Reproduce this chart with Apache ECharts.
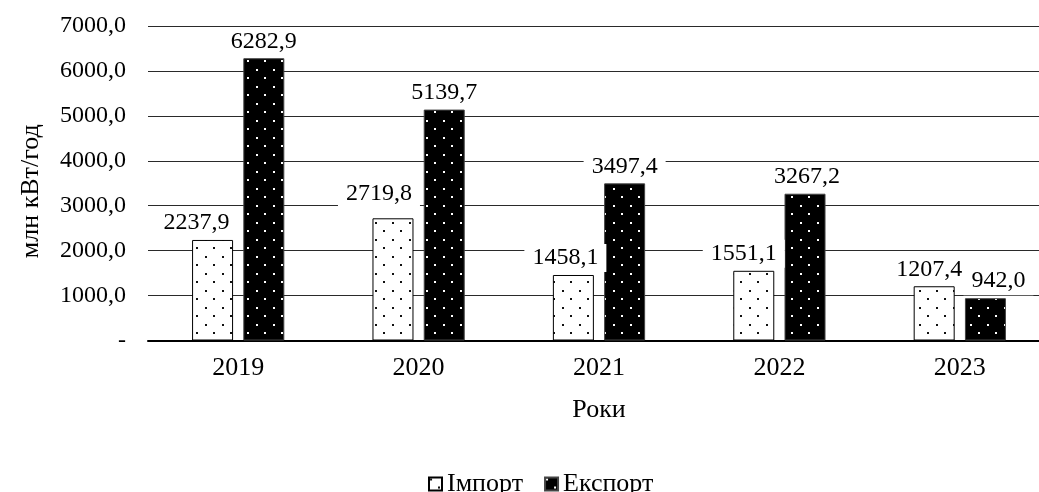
<!DOCTYPE html>
<html>
<head>
<meta charset="utf-8">
<script src="https://cdn.jsdelivr.net/npm/echarts@6/dist/echarts.min.js"></script>
<style>
  html, body { margin: 0; padding: 0; background: #fff; }
  #chart { width: 1039px; height: 492px; }
</style>
</head>
<body>
<div id="chart"></div>
<script>
// дані з графіка
const years = ['2019', '2020', '2021', '2022', '2023'];
const importVals = [2237.9, 2719.8, 1458.1, 1551.1, 1207.4];
const exportVals = [6282.9, 5139.7, 3497.4, 3267.2, 942.0];
const yMin = 0, yMax = 7000, yStep = 1000;

// зсув підписів (як вручну посунуто в оригіналі)
const importShift = [[-16, 0], [-14, -8], [-8, 0], [-10, 0], [-5, 0]];
const exportShift = [[0, 0], [0, 0], [0, 0], [2, 0], [13, 0]];

const FONT = '"Liberation Serif", "Times New Roman", serif';

function dots(bg, dot) {
  const c = document.createElement('canvas');
  c.width = 17; c.height = 17;
  const ctx = c.getContext('2d');
  ctx.fillStyle = bg;
  ctx.fillRect(0, 0, 17, 17);
  ctx.fillStyle = dot;
  ctx.fillRect(1, 1, 2, 2);
  ctx.fillRect(9, 9, 2, 2);
  return c;
}

function fmt(v) {
  return v.toFixed(1).replace('.', ',');
}

function withLabels(vals, shift) {
  return vals.map((v, i) => ({
    value: v,
    label: { offset: shift[i] }
  }));
}

const label = {
  show: true,
  position: 'top',
  distance: 3,
  formatter: p => fmt(p.value),
  fontFamily: FONT,
  fontSize: 24,
  color: '#000',
  backgroundColor: '#fff',
  padding: [2, 8]
};

const chart = echarts.init(document.getElementById('chart'));
chart.setOption({
  animation: false,
  textStyle: { fontFamily: FONT },
  grid: { left: 148, top: 26, width: 902, height: 314.5, outerBoundsMode: 'none', containLabel: false },
  legend: {
    left: 423,
    top: 466,
    itemWidth: 13,
    itemHeight: 13,
    itemGap: 21,
    icon: 'rect',
    textStyle: { fontFamily: FONT, fontSize: 26, color: '#000' },
    data: ['Імпорт', 'Експорт']
  },
  xAxis: {
    type: 'category',
    data: years,
    name: 'Роки',
    nameLocation: 'middle',
    nameGap: 57,
    nameTextStyle: { fontFamily: FONT, fontSize: 26, color: '#000' },
    axisTick: { show: false },
    axisLine: { lineStyle: { color: '#000', width: 2 } },
    axisLabel: { fontFamily: FONT, fontSize: 26, color: '#000', margin: 15 }
  },
  yAxis: {
    type: 'value',
    min: yMin,
    max: yMax,
    interval: yStep,
    name: 'млн кВт/год',
    nameLocation: 'middle',
    nameGap: 104,
    nameTextStyle: { fontFamily: FONT, fontSize: 26, color: '#000', padding: [0, 16, 0, 0] },
    axisLine: { show: false },
    axisTick: { show: false },
    splitLine: { lineStyle: { color: '#2a2a2a', width: 1 } },
    axisLabel: {
      fontFamily: FONT, fontSize: 24, color: '#000', margin: 22,
      formatter: v => (v === 0 ? '-' : fmt(v))
    }
  },
  series: [
    {
      name: 'Імпорт',
      type: 'bar',
      barWidth: 41,
      barGap: '25%',
      data: withLabels(importVals, importShift),
      itemStyle: {
        color: { image: dots('#fff', '#111'), repeat: 'repeat' },
        borderColor: '#000',
        borderWidth: 1
      },
      label: label
    },
    {
      name: 'Експорт',
      type: 'bar',
      barWidth: 41,
      data: withLabels(exportVals, exportShift),
      itemStyle: {
        color: { image: dots('#000', '#fff'), repeat: 'repeat' },
        borderColor: '#444',
        borderWidth: 1
      },
      label: label
    }
  ]
});
</script>
</body>
</html>
